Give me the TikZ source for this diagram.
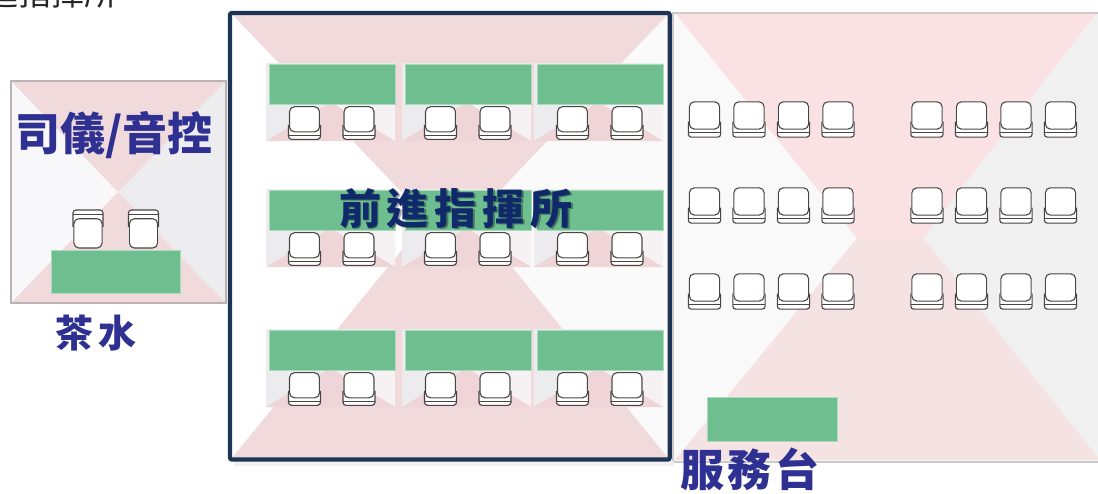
\documentclass[tikz,border=0pt]{standalone}
\usepackage{fontspec}
\newfontfamily\cjk{Noto Sans CJK TC}
\definecolor{pinkA}{HTML}{F0DADB}
\definecolor{pinkB}{HTML}{F9E1E4}
\definecolor{pinkC}{HTML}{F5E2E3}
\definecolor{lwhite}{HTML}{F8F8FA}
\definecolor{lgray}{HTML}{EDEDF0}
\definecolor{rwhite}{HTML}{F9F9F9}
\definecolor{rgray}{HTML}{F0F0F0}
\definecolor{mgray}{HTML}{FAFAFA}
\definecolor{ugray}{HTML}{ECECEF}
\definecolor{uright}{HTML}{F6F1F3}
\definecolor{upink}{HTML}{EFD5D8}
\definecolor{tgreen}{HTML}{6EBE8F}
\definecolor{tgreenb}{HTML}{A8DCBD}
\definecolor{chairc}{HTML}{4A4545}
\definecolor{navy}{HTML}{2E3192}
\definecolor{darknavy}{HTML}{10296B}
\definecolor{framec}{HTML}{1D3454}
\definecolor{lborder}{HTML}{BCB4B4}
\definecolor{rborder}{HTML}{CDC9C9}
\tikzset{
  chairline/.style={draw=chairc, line width=1.1pt},
  seat/.pic={
    \fill[white, rounded corners=5pt] (-16,-17) rectangle (16,17);
    \draw[chairline, rounded corners=5pt] (-15,-17) rectangle (15,9.2);
    \draw[chairline, rounded corners=3pt] (-16,2) -- (-16,17) -- (16,17) -- (16,2);
    \draw[chairline] (-16,12.8) -- (16,12.8);
  },
  tablegreen/.style={fill=tgreen, draw=tgreenb, line width=0.6pt},
  lbl/.style={inner sep=0pt, anchor=base, text=navy},
}
\newcommand\deskunit[2]{%
  \fill[ugray] (#1,#2) rectangle ++(129,78);
  \fill[uright] (#1+129,#2) -- (#1+64.5,#2+39) -- (#1+129,#2+78) -- cycle;
  \fill[upink] (#1,#2+78) -- (#1+64.5,#2+39) -- (#1+129,#2+78) -- cycle;
  \path[tablegreen] (#1+3,#2+1) rectangle ++(126,40);
  \pic[yscale=0.96] at (#1+38.5,#2+60) {seat};
  \pic[yscale=0.96] at (#1+93,#2+60) {seat};
}
\begin{document}
\begin{tikzpicture}[x=1pt,y=-1pt]
\useasboundingbox (0,0) rectangle (1098,493);
\fill[white] (0,0) rectangle (1098,493);

% clipped caption at the top
\node[font={\cjk\fontsize{33}{33}\selectfont}, text=black!85, inner sep=0pt, anchor=base east] (toptxt) at (118,5) {前進指揮所};

% ---------- left room ----------
\fill[lwhite] (11,81) rectangle (226,303);
\fill[lgray] (226,81) -- (118,192) -- (226,303) -- cycle;
\fill[pinkA] (11,81) -- (226,81) -- (118,192) -- cycle;
\fill[pinkA] (11,303) -- (226,303) -- (118,192) -- cycle;
\draw[lborder, line width=1.5pt] (11,81) rectangle (226,303);
\pic[xscale=0.94, yscale=-1.12] at (88,229) {seat};
\pic[xscale=0.94, yscale=-1.12] at (143.5,229) {seat};
\path[tablegreen] (51,250) rectangle (180,293);
\node[lbl, font={\cjk\bfseries\fontsize{45}{45}\selectfont}] (mc) at (114,150) {司儀/音控};
\node[lbl, font={\cjk\bfseries\fontsize{38}{38}\selectfont}] (tea) at (96,347) {茶\hspace{6pt}水};

% ---------- right room ----------
\fill[rwhite] (673,13) rectangle (1100,462);
\fill[rgray] (1098,13) -- (923,238) -- (1100,462) -- cycle;
\fill[pinkB] (675,13) -- (1097,13) -- (923,238) -- (857,238) -- cycle;
\fill[pinkC] (857,238) -- (923,238) -- (1100,460) -- (675,460) -- cycle;
\draw[rborder, line width=1.5pt] (1100,13) -- (673,13) -- (673,462) -- (1100,462);
\foreach \r in {119.5,205.5,291.5}{
  \foreach \i in {0,1,2,3,5,6,7,8}{
    \pic[xscale=1.01, yscale=1.04] at (704.5+44.5*\i,\r) {seat};
  }
}
\path[tablegreen] (707,397) rectangle (837,441);
\node[lbl, font={\cjk\bfseries\fontsize{44}{44}\selectfont}] (svc) at (750,486) {服\hspace{4pt}務\hspace{4pt}台};

% ---------- command post ----------
\fill[black!6] (234,461) rectangle (674,466);
\fill[white] (230,13) rectangle (670,460);
\fill[mgray] (668,14) -- (450,230) -- (668,457) -- cycle;
\fill[pinkA] (232,14) -- (668,14) -- (450,243) -- cycle;
\fill[pinkA] (232,458) -- (668,458) -- (450,191) -- cycle;
\foreach \ux in {266,402,534}{
  \deskunit{\ux}{63}
  \deskunit{\ux}{189}
  \deskunit{\ux}{329}
}
\node[inner sep=0pt, anchor=base, text=black, opacity=0.35, font={\cjk\bfseries\fontsize{42}{42}\selectfont}] (cmdshadow) at (457.5,225.5) {前\hspace{6pt}進\hspace{6pt}指\hspace{6pt}揮\hspace{6pt}所};
\node[inner sep=0pt, anchor=base, text=darknavy, font={\cjk\bfseries\fontsize{42}{42}\selectfont}] (cmd) at (456,224) {前\hspace{6pt}進\hspace{6pt}指\hspace{6pt}揮\hspace{6pt}所};
\draw[framec, line width=4.3pt, rounded corners=2pt] (230,13) rectangle (669.7,459.5);
\end{tikzpicture}
\end{document}
